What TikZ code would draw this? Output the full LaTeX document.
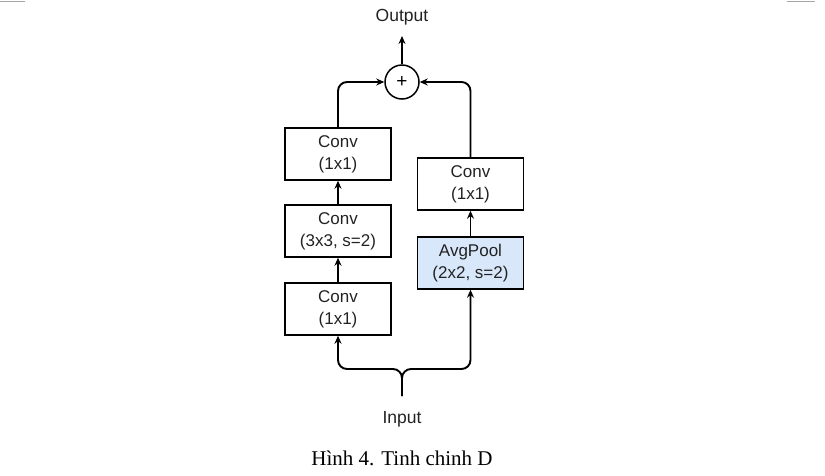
\documentclass[tikz,border=0pt]{standalone}
\usepackage{fontspec}
\setmainfont{Liberation Sans}
\newfontfamily\capfont{Liberation Serif}
\usetikzlibrary{arrows.meta}
\definecolor{txt}{HTML}{222222}
\definecolor{poolfill}{HTML}{D8E8FA}
\tikzset{
  blk/.style={draw=black, line width=1.5pt, minimum width=106pt, minimum height=52pt, inner sep=0pt, align=center, font=\fontsize{17}{22}\selectfont, text=txt},
  lbl/.style={font=\fontsize{17.5}{20}\selectfont, text=txt, inner sep=0pt},
  arr/.style={line width=1.9pt, -{Stealth[length=8pt,width=7pt]}},
  plusnode/.style={draw=black, line width=1.5pt, circle, minimum size=34pt, inner sep=0pt, font=\fontsize{19}{19}\selectfont}
}
\begin{document}
\begin{tikzpicture}[x=1pt,y=-1pt]
\useasboundingbox (0,0) rectangle (825,475);
\draw[gray!70, line width=1pt] (0,1) -- (25,1);
\draw[gray!70, line width=1pt] (787,1) -- (815,1);
\node[lbl] (out) at (402,17) {Output};
\node[plusnode] (plus) at (402,82) {+};
\node[blk] (boxA) at (338,154) {Conv\\(1x1)};
\node[blk] (boxB) at (338,231) {Conv\\(3x3, s=2)};
\node[blk] (boxC) at (338,309) {Conv\\(1x1)};
\node[blk] (convR) at (470.5,184) {Conv\\(1x1)};
\node[blk, fill=poolfill] (pool) at (470.5,263) {AvgPool\\(2x2, s=2)};
\node[lbl] (inp) at (402,419) {Input};
\node[font=\capfont\fontsize{21}{24}\selectfont, inner sep=0pt] (cap) at (402,458) {Hình 4. Tinh chinh D};
\coordinate (outtip) at (402,36);
\coordinate (stem) at (402,396);
\coordinate (split) at (402,369);
\draw[arr] (plus.north) -- (outtip);
\draw[arr, rounded corners=9pt] (boxA.north) |- (plus.west);
\draw[arr, rounded corners=9pt] (convR.north) |- (plus.east);
\draw[arr] (boxB.north) -- (boxA.south);
\draw[arr] (boxC.north) -- (boxB.south);
\draw[arr] (pool.north) -- (convR.south);
\draw[arr, rounded corners=9pt] (stem) -- (split) -| (boxC.south);
\draw[arr, rounded corners=9pt] (stem) -- (split) -| (pool.south);
\end{tikzpicture}
\end{document}
